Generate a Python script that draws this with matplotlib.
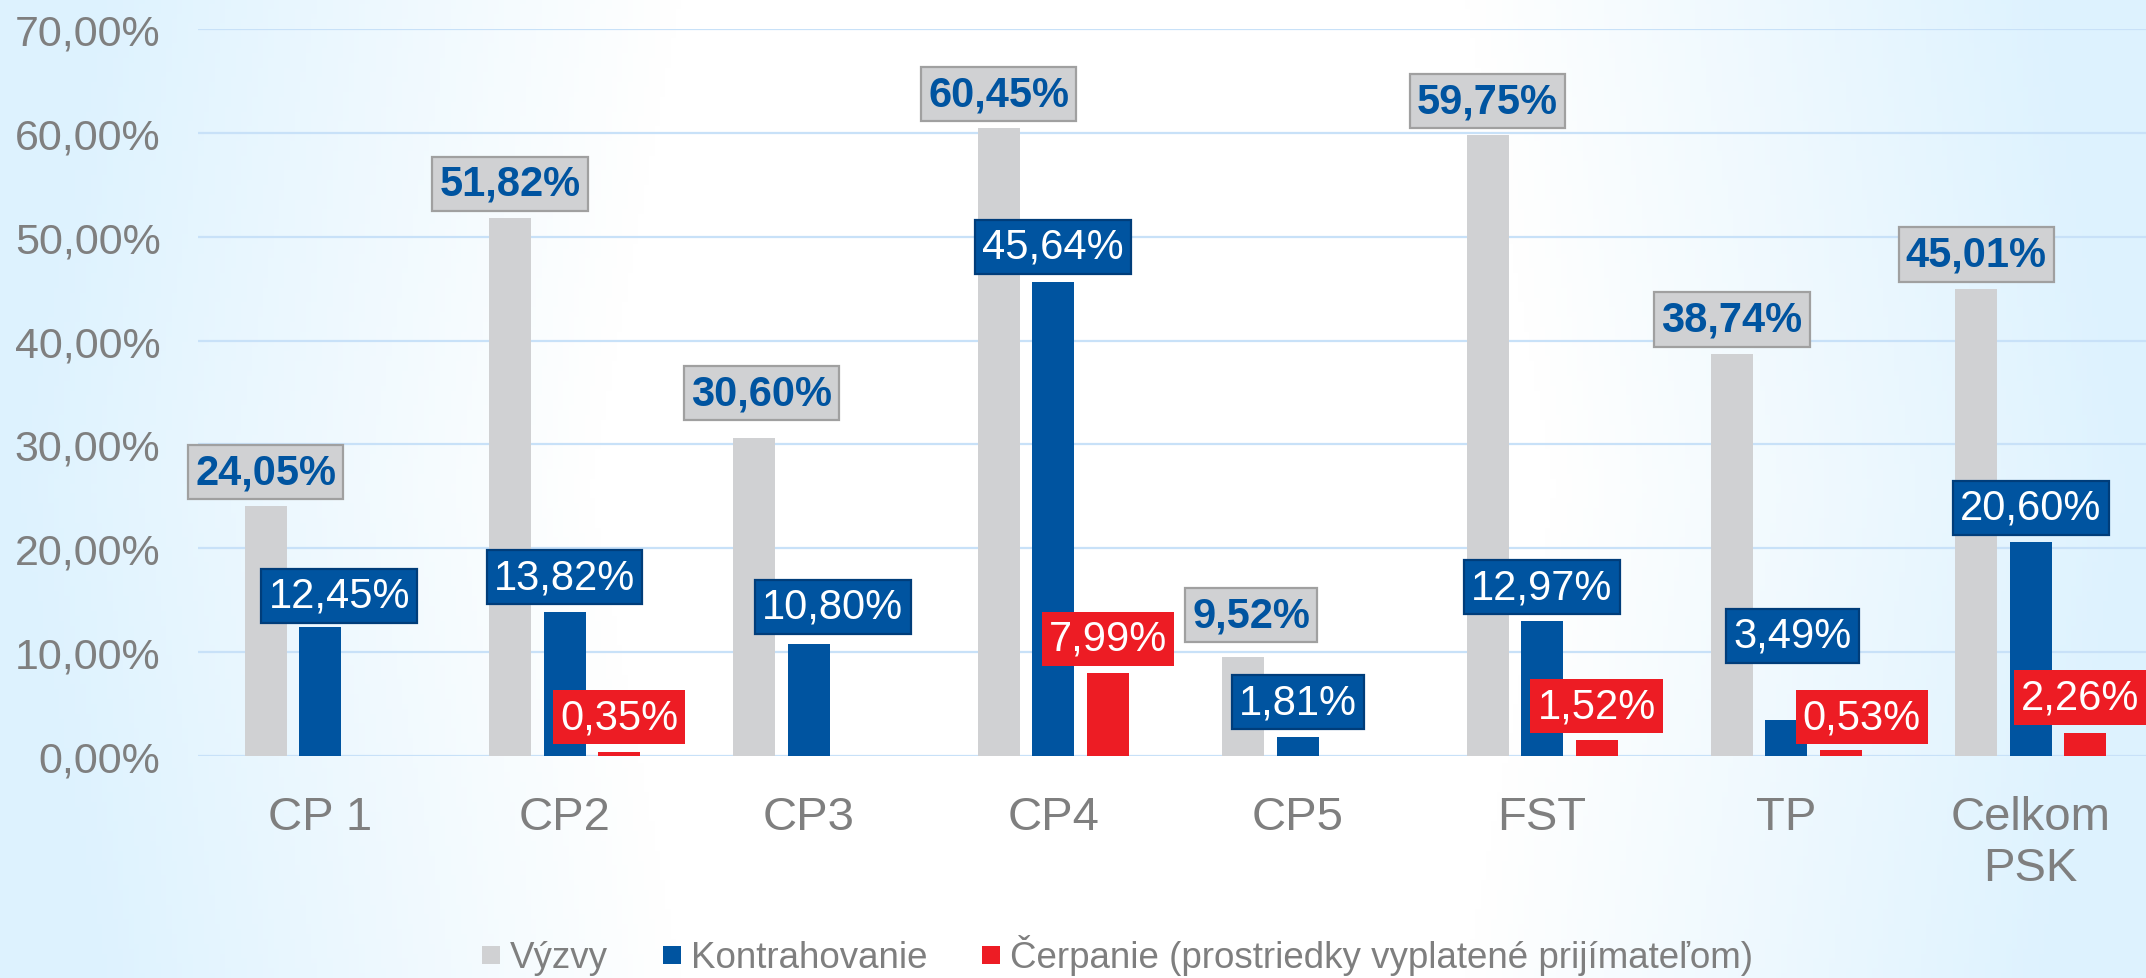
import numpy as np
import matplotlib.pyplot as plt
from matplotlib.lines import Line2D

plt.rcParams['font.family'] = ['Liberation Sans', 'DejaVu Sans']

# data
categories = ["CP 1", "CP2", "CP3", "CP4", "CP5", "FST", "TP", "Celkom\nPSK"]
vyzvy = [24.05, 51.82, 30.60, 60.45, 9.52, 59.75, 38.74, 45.01]
kontrahovanie = [12.45, 13.82, 10.80, 45.64, 1.81, 12.97, 3.49, 20.60]
cerpanie = [np.nan, 0.35, np.nan, 7.99, np.nan, 1.52, 0.53, 2.26]
series_names = ["Výzvy", "Kontrahovanie", "Čerpanie (prostriedky vyplatené prijímateľom)"]
y_ticks = [0, 10, 20, 30, 40, 50, 60, 70]

GREY = "#d0d1d3"
BLUE = "#0054a0"
RED = "#ed1c24"
TXT = "#7f7f7f"

# label tweaks in pixels (horizontal shift, gap above bar)
shift_px = [
    [0, 0, 7, 0, 8, 0, 0, 0],
    [19, 0, 24, 0, 0, 0, 6, 0],
    [0, 0, 0, 0, 0, 0, 21, -5],
]
gap_px = [
    [7, 7, 18, 7, 15, 7, 7, 7],
    [4, 8, 10, 8, 8, 7, 57, 7],
    [8, 8, 8, 7, 8, 7, 6, 8],
]

def fmt(v):
    return f"{v:.2f}%".replace(".", ",")

W, H = 2146, 979
fig = plt.figure(figsize=(W / 100, H / 100), dpi=100)

# background gradient
u = np.linspace(0, 1, 400)
v = np.linspace(0, 1, 200)
uu, vv = np.meshgrid(u, v)
t = np.clip((np.abs(uu - 0.5) * 2 - 0.45) / 0.55 + 0.15 * np.abs(vv - 0.5) * 2, 0, 1)
edge = np.array([221, 242, 254]) / 255
img = (1 - t[..., None]) * np.ones(3) + t[..., None] * edge
bg = fig.add_axes([0, 0, 1, 1], zorder=0)
bg.imshow(img, aspect="auto", extent=[0, 1, 0, 1])
bg.axis("off")

ax = fig.add_axes([198 / W, (H - 757) / H, 1 - 198 / W, (757 - 30) / H], zorder=1)
ax.patch.set_alpha(0)

x = np.arange(len(categories))
bw = 0.172
step = 0.223
all_series = [vyzvy, kontrahovanie, cerpanie]
colors = [GREY, BLUE, RED]
for i, (vals, col) in enumerate(zip(all_series, colors)):
    ax.bar(x + (i - 1) * step, vals, bw, color=col, zorder=2)

ax.set_xlim(-0.5, (W - 320) / 244.4)
ax.set_ylim(0, 70)
ax.set_yticks(y_ticks)
ax.set_yticklabels([fmt(t_) for t_ in y_ticks], fontsize=31, color=TXT)
ax.set_xticks(x)
ax.set_xticklabels(categories, fontsize=34, color=TXT, linespacing=1.2)
ax.tick_params(axis="y", length=0, pad=27)
ax.tick_params(axis="x", length=0, pad=28)
for s in ax.spines.values():
    s.set_visible(False)
ax.yaxis.grid(True, color="#c8e1f8", linewidth=1.6, zorder=0)
ax.set_axisbelow(True)

# data labels
fs_lab = 30
pad = 0.17
pad_px = pad * fs_lab * 100 / 72
box_styles = [
    dict(boxstyle=f"square,pad={pad}", fc=GREY, ec="#a0a0a0", lw=1.6),
    dict(boxstyle=f"square,pad={pad}", fc=BLUE, ec="#003d7a", lw=1.6),
    dict(boxstyle=f"square,pad={pad}", fc=RED, ec=RED, lw=0),
]
text_colors = [BLUE, "white", "white"]
weights = ["bold", "normal", "normal"]
for i, vals in enumerate(all_series):
    for j, val in enumerate(vals):
        if np.isnan(val):
            continue
        ax.annotate(fmt(val), xy=(x[j] + (i - 1) * step, val),
                    xytext=(shift_px[i][j] * 0.72, (gap_px[i][j] + pad_px) * 0.72),
                    textcoords="offset points", ha="center", va="bottom",
                    fontsize=fs_lab, color=text_colors[i], fontweight=weights[i],
                    bbox=box_styles[i], zorder=5)

handles = [Line2D([], [], marker="s", linestyle="none", markersize=13.5,
                  markerfacecolor=c, markeredgewidth=0) for c in colors]
fig.legend(handles, series_names, loc="center", bbox_to_anchor=(0.5205, (H - 956) / H),
           ncol=3, frameon=False, fontsize=26.5, labelcolor=TXT,
           handlelength=0.55, handletextpad=0.25, columnspacing=1.45)

fig.savefig("out.png", dpi=100)
